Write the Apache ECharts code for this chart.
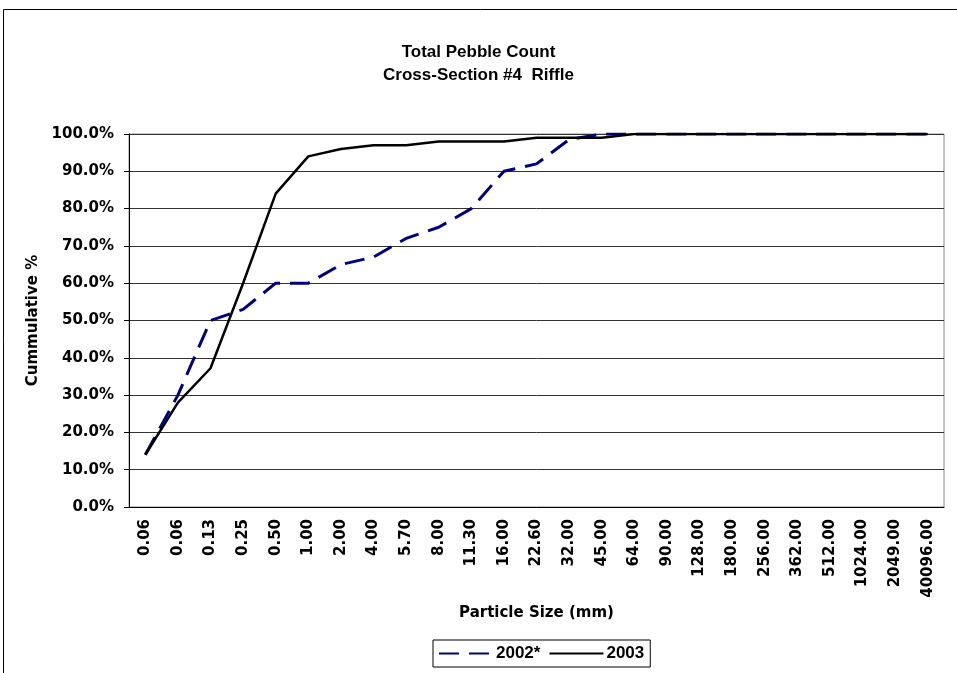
<!DOCTYPE html>
<html>
<head>
<meta charset="utf-8">
<script src="https://cdn.jsdelivr.net/npm/echarts@6/dist/echarts.min.js"></script>
<style>
  html, body { margin: 0; padding: 0; background: #fff; }
  #chart { width: 957px; height: 673px; }
</style>
</head>
<body>
<div id="chart"></div>
<script>
  // particle size classes (mm)
  var sizes = ['0.06', '0.06', '0.13', '0.25', '0.50', '1.00', '2.00', '4.00', '5.70', '8.00',
    '11.30', '16.00', '22.60', '32.00', '45.00', '64.00', '90.00', '128.00', '180.00', '256.00',
    '362.00', '512.00', '1024.00', '2049.00', '40096.00'];

  // cumulative percent
  var pct2002 = [14, 30, 50, 53, 60, 60, 65, 67, 72, 75, 80, 90, 92, 98.5, 100, 100, 100, 100, 100, 100, 100, 100, 100, 100, 100];
  var pct2003 = [14, 28, 37.2, 60, 84, 94, 96, 97, 97, 98, 98, 98, 99, 99, 99, 100, 100, 100, 100, 100, 100, 100, 100, 100, 100];

  var yTicks = [0, 10, 20, 30, 40, 50, 60, 70, 80, 90, 100];

  var font = 'Liberation Sans, Arial, sans-serif';
  var wide = 'DejaVu Sans, sans-serif'; // axis text in the original is a stretched Arial
  var chart = echarts.init(document.getElementById('chart'));

  var option = {
    backgroundColor: '#fff',
    animation: false,
    graphic: [{
      type: 'rect',
      shape: { x: 3.5, y: 9.5, width: 1000, height: 700 },
      style: { fill: 'none', stroke: '#000', lineWidth: 1 },
      silent: true
    }],
    title: {
      text: 'Total Pebble Count\nCross-Section #4  Riffle',
      left: 'center',
      top: 36,
      textStyle: { fontFamily: font, fontSize: 17, fontWeight: 'bold', color: '#000', lineHeight: 23 }
    },
    legend: {
      data: ['2002*', '2003'],
      left: 433,
      top: 640,
      itemWidth: 54,
      itemHeight: 10,
      itemGap: 8,
      padding: [5, 6, 5, 5],
      borderColor: '#000',
      borderWidth: 1,
      itemStyle: { opacity: 0 },
      textStyle: { fontFamily: font, fontSize: 17, fontWeight: 'bold', color: '#000', padding: [0, 0, 0, -2] }
    },
    grid: {
      left: 129,
      right: 13,
      top: 134,
      bottom: 166,
      show: true,
      borderColor: '#888',
      borderWidth: 1
    },
    xAxis: {
      type: 'category',
      data: sizes,
      boundaryGap: true,
      name: 'Particle Size (mm)',
      nameLocation: 'middle',
      nameGap: 84,
      nameTextStyle: { fontFamily: wide, fontSize: 15, fontWeight: 'bold', color: '#000' },
      axisLine: { lineStyle: { color: '#000', width: 1 } },
      axisTick: { length: 5, lineStyle: { color: '#000' } },
      axisLabel: {
        rotate: 90,
        interval: 0,
        margin: 12,
        fontFamily: wide,
        fontSize: 15,
        fontWeight: 'bold',
        color: '#000'
      },
      splitLine: { show: false }
    },
    yAxis: {
      type: 'value',
      min: 0,
      max: 100,
      interval: 10,
      name: 'Cummulative %',
      nameLocation: 'middle',
      nameRotate: 90,
      nameGap: 88,
      nameTextStyle: { fontFamily: wide, fontSize: 15, fontWeight: 'bold', color: '#000' },
      axisLine: { show: true, lineStyle: { color: '#000', width: 1 } },
      axisTick: { show: true, length: 5, inside: false, lineStyle: { color: '#000' } },
      axisLabel: {
        margin: 15,
        fontFamily: wide,
        fontSize: 15,
        fontWeight: 'bold',
        color: '#000',
        formatter: function (v) {
          return yTicks.indexOf(v) >= 0 ? v.toFixed(1) + '%' : '';
        }
      },
      splitLine: { show: true, lineStyle: { color: '#333', width: 1 } }
    },
    series: [
      {
        name: '2002*',
        type: 'line',
        data: pct2002,
        symbol: 'none',
        color: '#000080',
        lineStyle: { color: '#000080', width: 3, type: [20, 10] },
        z: 3
      },
      {
        name: '2003',
        type: 'line',
        data: pct2003,
        symbol: 'none',
        color: '#000',
        lineStyle: { color: '#000', width: 2.5 },
        z: 4
      }
    ]
  };

  chart.setOption(option);
</script>
</body>
</html>
